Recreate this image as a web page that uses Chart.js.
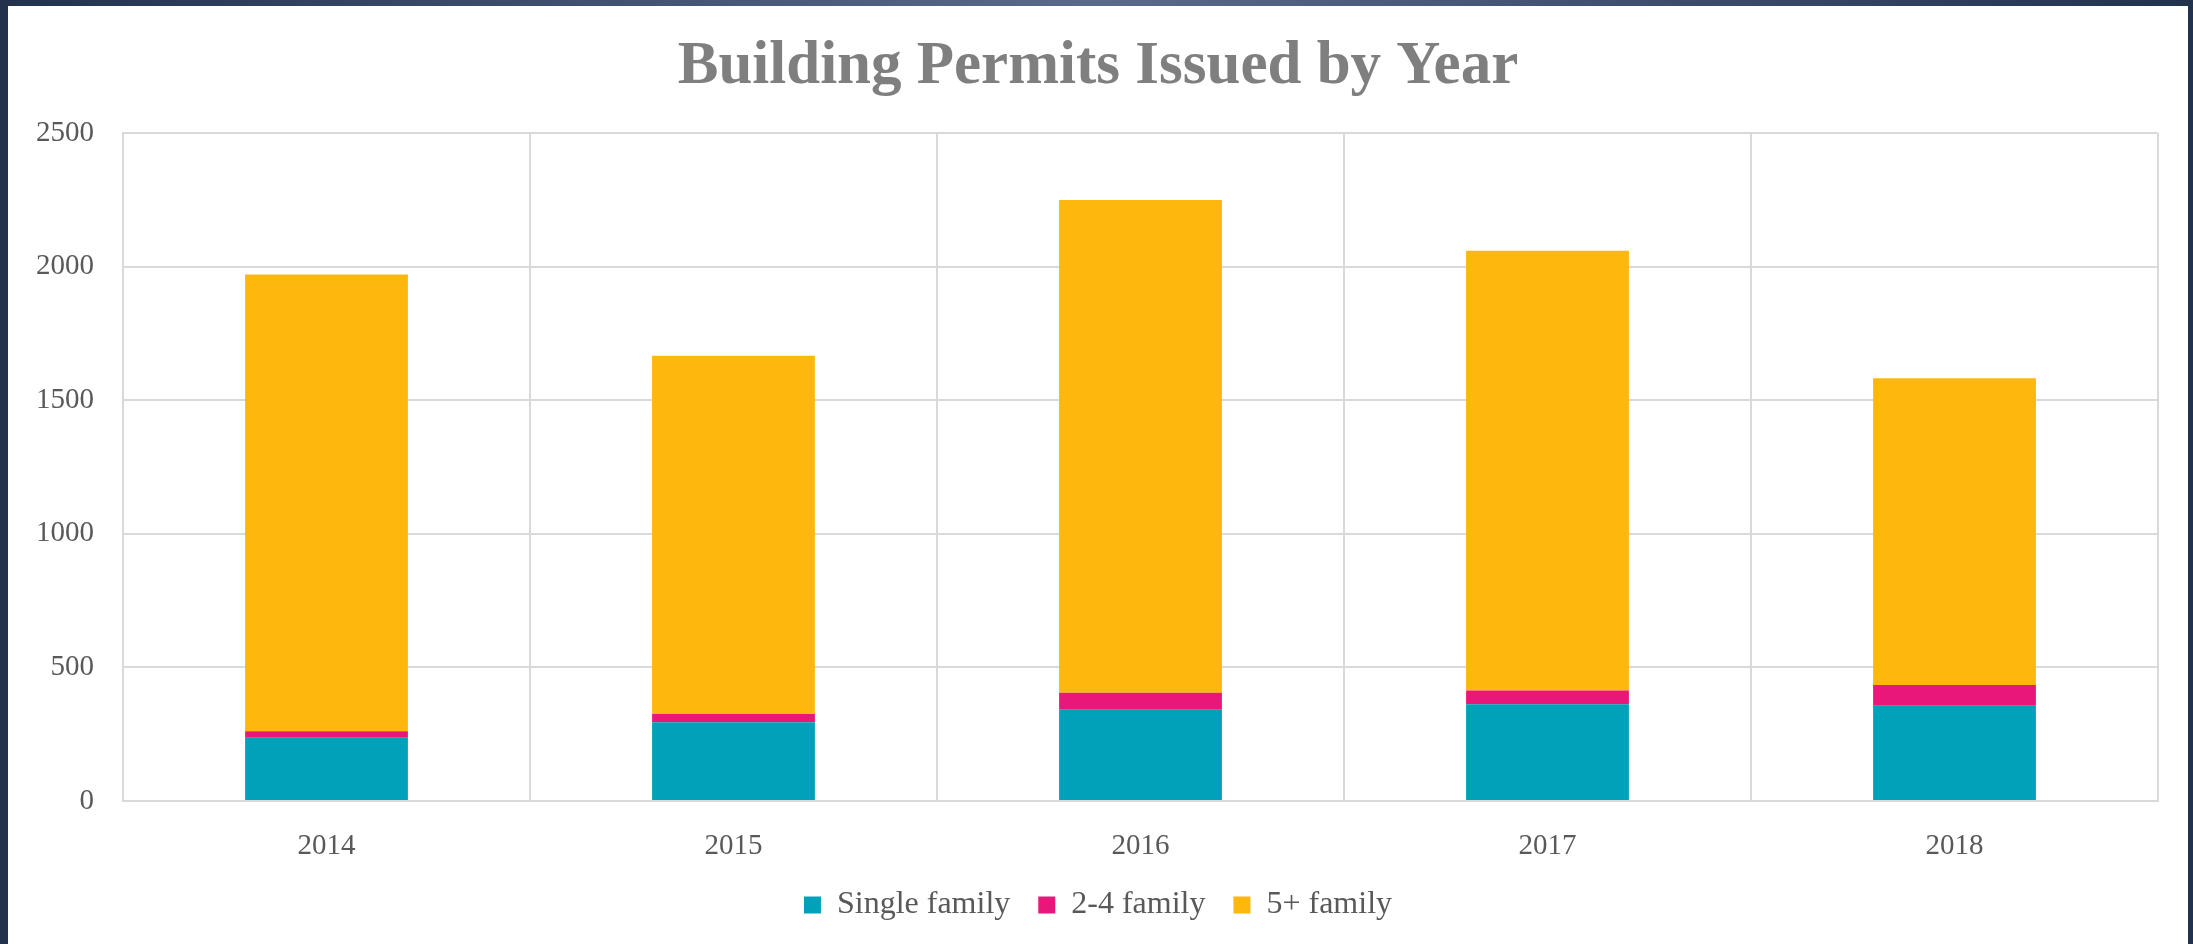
<!DOCTYPE html>
<html>
<head>
<meta charset="utf-8">
<script src="https://cdn.jsdelivr.net/npm/chart.js@4.4.1/dist/chart.umd.min.js"></script>
<style>
  html, body { margin: 0; padding: 0; width: 2193px; height: 944px; overflow: hidden;
    background: linear-gradient(90deg, #22324d 0%, #5a6a8b 50%, #22324d 100%); }
  #panel { position: absolute; left: 8px; top: 6px; width: 2180px; height: 938px; background: #fff; }
</style>
</head>
<body>
<div id="panel"><canvas id="myChart"></canvas></div>
<script>
const years = ['2014', '2015', '2016', '2017', '2018'];
const singleFamily = [237, 295, 342, 362, 357];
const twoToFour = [24, 31, 63, 52, 77];
const fivePlus = [1710, 1341, 1845, 1646, 1149];
const seriesNames = ['Single family', '2-4 family', '5+ family'];
const seriesColors = ['#00a1b9', '#e9177a', '#feb70c'];
const yTicks = [0, 500, 1000, 1500, 2000, 2500];

const gridColor = '#d9d9d9';
const textColor = '#595959';
const serif = "'Liberation Serif', 'DejaVu Serif', serif";

const data = {
    labels: years,
    datasets: [singleFamily, twoToFour, fivePlus].map((vals, i) => ({
        label: seriesNames[i],
        data: vals,
        backgroundColor: seriesColors[i],
        borderWidth: 0,
        barPercentage: 0.4,
        categoryPercentage: 1
    }))
};

const config = {
    type: 'bar',
    data,
    options: {
        responsive: true,
        maintainAspectRatio: false,
        devicePixelRatio: 1,
        animation: false,
        layout: {padding: {left: 0, right: 0, top: 0, bottom: 13}},
        scales: {
            x: {
                stacked: true,
                grid: {color: gridColor, lineWidth: 2, drawTicks: false},
                border: {color: gridColor, width: 2},
                ticks: {color: textColor, font: {family: serif, size: 29}, padding: 28},
                afterFit: (s) => { s.height = 60; }
            },
            y: {
                stacked: true,
                min: yTicks[0],
                max: yTicks[yTicks.length - 1],
                afterBuildTicks: (s) => { s.ticks = yTicks.map(v => ({value: v})); },
                grid: {color: gridColor, lineWidth: 2, drawTicks: false},
                border: {color: gridColor, width: 2},
                ticks: {color: textColor, font: {family: serif, size: 29}, padding: 29,
                        callback: (v) => String(v)},
                afterFit: (s) => { s.width = 115; }
            },
            // empty right margin so the title and legend stay centred on the whole panel
            yRight: {
                position: 'right',
                min: 0,
                max: 2500,
                grid: {drawOnChartArea: false, drawTicks: false},
                border: {display: false},
                ticks: {display: false},
                afterFit: (s) => { s.width = 30; }
            }
        },
        plugins: {
            title: {
                display: true,
                text: 'Building Permits Issued by Year',
                color: '#7f7f7f',
                font: {family: serif, size: 61, weight: 'bold'},
                padding: {top: 25, bottom: 29}
            },
            legend: {
                position: 'bottom',
                labels: {
                    color: textColor,
                    font: {family: serif, size: 32},
                    boxWidth: 17,
                    boxHeight: 17,
                    padding: 28
                }
            },
            tooltip: {enabled: false}
        }
    }
};
const myChart = new Chart(document.getElementById('myChart'), config);
</script>
</body>
</html>
